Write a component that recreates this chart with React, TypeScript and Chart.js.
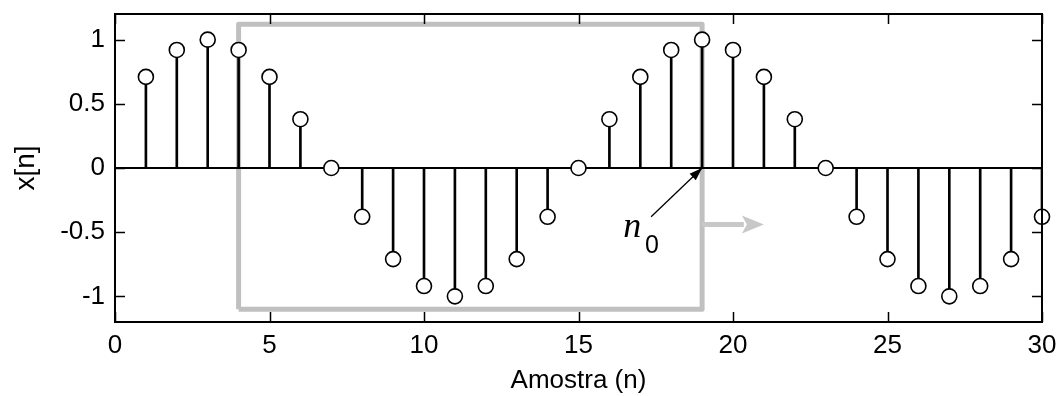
import React, { useEffect, useRef } from "react";
import { Chart, registerables } from "chart.js";

Chart.register(...registerables);

// ---- data ----
const SAMPLES = [1, 2, 3, 4, 5, 6, 7, 8, 9, 10, 11, 12, 13, 14, 15, 16, 17, 18, 19, 20, 21, 22, 23, 24, 25, 26, 27, 28, 29, 30];
const VALUES = [0.71, 0.92, 1, 0.92, 0.71, 0.38, 0, -0.38, -0.71, -0.92, -1, -0.92, -0.71, -0.38, 0, 0.38, 0.71, 0.92, 1, 0.92, 0.71, 0.38, 0, -0.38, -0.71, -0.92, -1, -0.92, -0.71, -0.38];
const X_TICKS = [0, 5, 10, 15, 20, 25, 30];
const Y_TICKS = [-1, -0.5, 0, 0.5, 1];
const X_LABEL = "Amostra (n)";
const Y_LABEL = "x[n]";
// window (gray box) corners and its shift arrow, in data units
const WINDOW_X = [4, 4, 19, 19, 4];
const WINDOW_Y = [-1.1, 1.12, 1.12, -1.1, -1.1];
const SHIFT_X = [19, 20.35];
const SHIFT_Y = [-0.44, -0.44];
const SHIFT_TIP = 21;
// n0 pointer arrow
const N0_X = [17.35, 19];
const N0_Y = [-0.38, 0];
const N0_TEXT_POS = { x: 16.45, y: -0.538 };
const N0_SUB_POS = { x: 17.15, y: -0.663 };

const FONT = "'Liberation Sans', Arial, sans-serif";

const decorPlugin = {
  id: "decor",
  afterDraw(chart: any) {
    const { ctx, chartArea: a, scales } = chart;
    const xs = scales.x;
    const ys = scales.y;
    ctx.save();
    // axes box
    ctx.strokeStyle = "#000";
    ctx.lineWidth = 2;
    ctx.strokeRect(a.left, a.top, a.right - a.left, a.bottom - a.top);
    // inside ticks on all four sides
    const TL = 10;
    ctx.beginPath();
    for (const t of xs.ticks) {
      const px = Math.round(xs.getPixelForValue(t.value)) + 0.5;
      ctx.moveTo(px, a.bottom);
      ctx.lineTo(px, a.bottom - TL);
      ctx.moveTo(px, a.top);
      ctx.lineTo(px, a.top + TL);
    }
    for (const t of ys.ticks) {
      const py = Math.round(ys.getPixelForValue(t.value)) + 0.5;
      ctx.moveTo(a.left, py);
      ctx.lineTo(a.left + TL, py);
      ctx.moveTo(a.right, py);
      ctx.lineTo(a.right - TL, py);
    }
    ctx.lineWidth = 1.5;
    ctx.stroke();

    // gray shift arrow head
    const tx = xs.getPixelForValue(SHIFT_TIP);
    const ty = ys.getPixelForValue(SHIFT_Y[1]);
    ctx.fillStyle = "#c8c8c8";
    ctx.beginPath();
    ctx.moveTo(tx, ty);
    ctx.lineTo(tx - 22, ty - 9);
    ctx.lineTo(tx - 17, ty);
    ctx.lineTo(tx - 22, ty + 9);
    ctx.closePath();
    ctx.fill();

    // black n0 arrow head
    const fx = xs.getPixelForValue(N0_X[0]);
    const fy = ys.getPixelForValue(N0_Y[0]);
    const hx = xs.getPixelForValue(N0_X[1]);
    const hy = ys.getPixelForValue(N0_Y[1]);
    const ang = Math.atan2(hy - fy, hx - fx);
    const L = 13, W = 4.5;
    ctx.fillStyle = "#000";
    ctx.beginPath();
    ctx.moveTo(hx, hy);
    ctx.lineTo(hx - L * Math.cos(ang) + W * Math.sin(ang), hy - L * Math.sin(ang) - W * Math.cos(ang));
    ctx.lineTo(hx - L * Math.cos(ang) - W * Math.sin(ang), hy - L * Math.sin(ang) + W * Math.cos(ang));
    ctx.closePath();
    ctx.fill();

    // n0 label
    ctx.fillStyle = "#000";
    ctx.textAlign = "left";
    ctx.textBaseline = "alphabetic";
    ctx.font = "italic 36px 'Liberation Serif', 'Times New Roman', serif";
    ctx.fillText("n", xs.getPixelForValue(N0_TEXT_POS.x), ys.getPixelForValue(N0_TEXT_POS.y));
    ctx.font = "25px " + FONT;
    ctx.fillText("0", xs.getPixelForValue(N0_SUB_POS.x), ys.getPixelForValue(N0_SUB_POS.y));
    ctx.restore();
  },
};

export default function App() {
  const ref = useRef<HTMLCanvasElement | null>(null);
  useEffect(() => {
    if (!ref.current) return;
    const pts = SAMPLES.map((n, i) => ({ x: n, y: VALUES[i] }));
    const chart = new Chart(ref.current, {
      type: "scatter",
      data: {
        datasets: [
          {
            type: "line",
            label: "window",
            data: WINDOW_X.map((x, i) => ({ x, y: WINDOW_Y[i] })),
            borderColor: "#c0c0c0",
            borderWidth: 5,
            borderJoinStyle: "round",
            pointRadius: 0,
            showLine: true,
            fill: false,
            tension: 0,
            order: 10,
          },
          {
            type: "line",
            label: "shift",
            data: SHIFT_X.map((x, i) => ({ x, y: SHIFT_Y[i] })),
            borderColor: "#c8c8c8",
            borderWidth: 5,
            pointRadius: 0,
            showLine: true,
            fill: false,
            order: 9,
          },
          {
            type: "line",
            label: "zero",
            data: [{ x: 0, y: 0 }, { x: 30, y: 0 }],
            borderColor: "#000",
            borderWidth: 2,
            pointRadius: 0,
            showLine: true,
            fill: false,
            order: 5,
          },
          {
            type: "bar",
            label: "stems",
            data: pts,
            backgroundColor: "#000",
            borderWidth: 0,
            barThickness: 2,
            order: 4,
          } as any,
          {
            type: "line",
            label: "n0",
            data: N0_X.map((x, i) => ({ x, y: N0_Y[i] })),
            borderColor: "#000",
            borderWidth: 1.3,
            pointRadius: 0,
            showLine: true,
            fill: false,
            order: 3,
          },
          {
            type: "scatter",
            label: "x[n]",
            data: pts,
            pointRadius: 7.5,
            pointBorderWidth: 1.6,
            pointBorderColor: "#000",
            pointBackgroundColor: "#fff",
            clip: false,
            order: 0,
          } as any,
        ],
      },
      options: {
        animation: false,
        responsive: false,
        events: [],
        layout: { padding: { top: 14, right: 15, left: 0, bottom: 0 } },
        plugins: { legend: { display: false }, tooltip: { enabled: false } },
        scales: {
          x: {
            type: "linear",
            min: 0,
            max: 30,
            offset: false,
            grid: { display: false, drawTicks: false },
            border: { display: false },
            afterBuildTicks: (s: any) => {
              s.ticks = X_TICKS.map((v) => ({ value: v }));
            },
            afterFit: (s: any) => {
              s.height = 74;
              s.paddingLeft = 0;
              s.paddingRight = 0;
            },
            ticks: {
              color: "#000",
              font: { family: FONT, size: 26 },
              padding: 8,
              maxRotation: 0,
              autoSkip: false,
              callback: (v: any) => String(v),
            },
            title: {
              display: true,
              text: X_LABEL,
              color: "#000",
              font: { family: FONT, size: 26 },
              padding: { top: 0, bottom: 0 },
            },
          },
          y: {
            type: "linear",
            min: -1.2,
            max: 1.2,
            grid: { display: false, drawTicks: false },
            border: { display: false },
            afterBuildTicks: (s: any) => {
              s.ticks = Y_TICKS.map((v) => ({ value: v }));
            },
            afterFit: (s: any) => {
              s.width = 115;
              s.paddingTop = 0;
              s.paddingBottom = 0;
            },
            ticks: {
              color: "#000",
              font: { family: FONT, size: 26 },
              padding: 10,
              callback: (v: any) => String(v),
            },
            title: {
              display: true,
              text: Y_LABEL,
              color: "#000",
              font: { family: FONT, size: 28 },
              padding: { top: 9, bottom: 0 },
            },
          },
        },
      },
      plugins: [decorPlugin],
    } as any);
    return () => chart.destroy();
  }, []);

  return (
    <div style={{ position: "absolute", left: 0, top: 0, width: 1057, height: 396, background: "#fff" }}>
      <canvas ref={ref} width={1057} height={396} style={{ display: "block" }} />
    </div>
  );
}
